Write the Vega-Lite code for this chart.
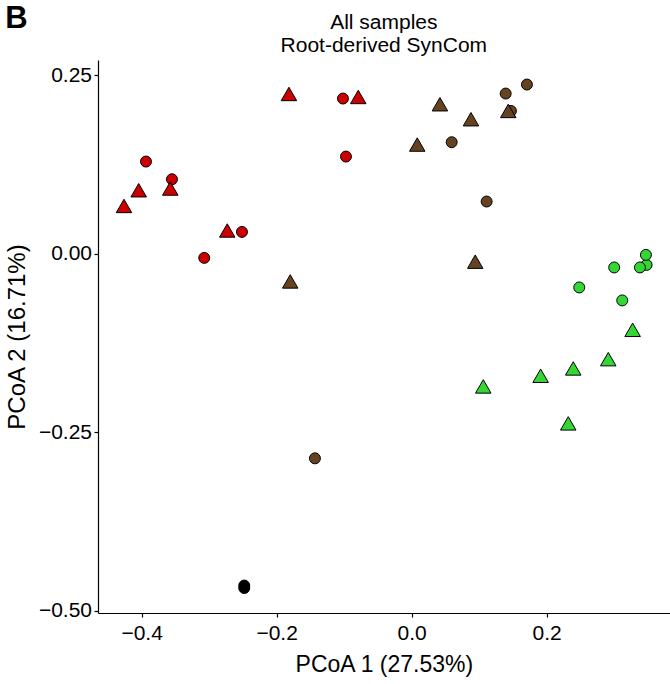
{
  "$schema": "https://vega.github.io/schema/vega-lite/v6.json",
  "padding": {"left": 5, "top": 3, "right": 0, "bottom": 0},
  "background": "white",
  "config": {"font": "Liberation Sans", "view": {"stroke": null}},
  "title": {"text": "B", "anchor": "start", "frame": "bounds", "fontSize": 31, "fontWeight": "bold", "color": "black", "offset": -23},
  "vconcat": [
    {
      "width": 571.7,
      "height": 553,
      "title": {"text": ["All samples", "Root-derived SynCom"], "fontSize": 21, "fontWeight": "normal", "lineHeight": 23, "color": "black", "offset": 4},
      "data": {
        "values": [
          {"pcoa1": -0.3936, "pcoa2": 0.1291, "group": "red", "shape": "circle"},
          {"pcoa1": -0.3551, "pcoa2": 0.1043, "group": "red", "shape": "circle"},
          {"pcoa1": -0.2514, "pcoa2": 0.0305, "group": "red", "shape": "circle"},
          {"pcoa1": -0.3073, "pcoa2": -0.0059, "group": "red", "shape": "circle"},
          {"pcoa1": -0.1018, "pcoa2": 0.2174, "group": "red", "shape": "circle"},
          {"pcoa1": -0.0973, "pcoa2": 0.1361, "group": "red", "shape": "circle"},
          {"pcoa1": 0.1393, "pcoa2": 0.2244, "group": "brown", "shape": "circle"},
          {"pcoa1": 0.1708, "pcoa2": 0.2370, "group": "brown", "shape": "circle"},
          {"pcoa1": 0.1471, "pcoa2": 0.2000, "group": "brown", "shape": "circle"},
          {"pcoa1": 0.0593, "pcoa2": 0.1562, "group": "brown", "shape": "circle"},
          {"pcoa1": 0.1111, "pcoa2": 0.0731, "group": "brown", "shape": "circle"},
          {"pcoa1": -0.1433, "pcoa2": -0.2868, "group": "brown", "shape": "circle"},
          {"pcoa1": 0.3481, "pcoa2": -0.0157, "group": "green", "shape": "circle"},
          {"pcoa1": 0.3471, "pcoa2": -0.0017, "group": "green", "shape": "circle"},
          {"pcoa1": 0.3382, "pcoa2": -0.0193, "group": "green", "shape": "circle"},
          {"pcoa1": 0.3001, "pcoa2": -0.0193, "group": "green", "shape": "circle"},
          {"pcoa1": 0.2483, "pcoa2": -0.0473, "group": "green", "shape": "circle"},
          {"pcoa1": 0.3120, "pcoa2": -0.0655, "group": "green", "shape": "circle"},
          {"pcoa1": -0.2480, "pcoa2": -0.4650, "group": "black", "shape": "circle"},
          {"pcoa1": -0.2480, "pcoa2": -0.4685, "group": "black", "shape": "circle"},
          {"pcoa1": -0.1818, "pcoa2": 0.2238, "group": "red", "shape": "triangle"},
          {"pcoa1": -0.4044, "pcoa2": 0.0889, "group": "red", "shape": "triangle"},
          {"pcoa1": -0.3576, "pcoa2": 0.0913, "group": "red", "shape": "triangle"},
          {"pcoa1": -0.4262, "pcoa2": 0.0669, "group": "red", "shape": "triangle"},
          {"pcoa1": -0.2732, "pcoa2": 0.0325, "group": "red", "shape": "triangle"},
          {"pcoa1": -0.0791, "pcoa2": 0.2196, "group": "red", "shape": "triangle"},
          {"pcoa1": 0.0419, "pcoa2": 0.2094, "group": "brown", "shape": "triangle"},
          {"pcoa1": 0.0879, "pcoa2": 0.1884, "group": "brown", "shape": "triangle"},
          {"pcoa1": 0.1431, "pcoa2": 0.2000, "group": "brown", "shape": "triangle"},
          {"pcoa1": 0.0083, "pcoa2": 0.1529, "group": "brown", "shape": "triangle"},
          {"pcoa1": 0.0942, "pcoa2": -0.0112, "group": "brown", "shape": "triangle"},
          {"pcoa1": -0.1799, "pcoa2": -0.0389, "group": "brown", "shape": "triangle"},
          {"pcoa1": 0.3274, "pcoa2": -0.1067, "group": "green", "shape": "triangle"},
          {"pcoa1": 0.2913, "pcoa2": -0.1478, "group": "green", "shape": "triangle"},
          {"pcoa1": 0.2394, "pcoa2": -0.1608, "group": "green", "shape": "triangle"},
          {"pcoa1": 0.1911, "pcoa2": -0.1711, "group": "green", "shape": "triangle"},
          {"pcoa1": 0.1061, "pcoa2": -0.1860, "group": "green", "shape": "triangle"},
          {"pcoa1": 0.2320, "pcoa2": -0.2378, "group": "green", "shape": "triangle"}
        ]
      },
      "mark": {"type": "point", "filled": true, "stroke": "black", "strokeWidth": 1, "opacity": 1, "strokeOpacity": 1, "fillOpacity": 1},
      "encoding": {
        "x": {
          "field": "pcoa1", "type": "quantitative",
          "scale": {"domain": [-0.4647, 0.3823], "nice": false, "zero": false},
          "axis": {"values": [-0.4, -0.2, 0, 0.2], "format": ".1f", "title": "PCoA 1 (27.53%)", "grid": false,
            "domainColor": "black", "domainWidth": 1.2, "tickColor": "black", "tickSize": 4, "tickWidth": 1.2,
            "labelFontSize": 21, "labelColor": "black", "labelPadding": 6,
            "titleFontSize": 23, "titleFontWeight": "normal", "titleColor": "black", "titlePadding": 10}
        },
        "y": {
          "field": "pcoa2", "type": "quantitative",
          "scale": {"domain": [-0.5035, 0.2714], "nice": false, "zero": false},
          "axis": {"values": [-0.5, -0.25, 0, 0.25], "format": ".2f", "title": "PCoA 2 (16.71%)", "grid": false,
            "domainColor": "black", "domainWidth": 1.2, "tickColor": "black", "tickSize": 4, "tickWidth": 1.2,
            "labelFontSize": 21, "labelColor": "black", "labelPadding": 2.5,
            "titleFontSize": 24, "titleFontWeight": "normal", "titleColor": "black", "titlePadding": 9}
        },
        "fill": {
          "field": "group", "type": "nominal",
          "scale": {"domain": ["red", "brown", "green", "black"], "range": ["#CC0000", "#654321", "#33D633", "#000000"]},
          "legend": null
        },
        "shape": {
          "field": "shape", "type": "nominal",
          "scale": {"domain": ["circle", "triangle"], "range": ["circle", "triangle-up"]},
          "legend": null
        },
        "size": {
          "field": "shape", "type": "ordinal",
          "scale": {"domain": ["circle", "triangle"], "range": [120, 240]},
          "legend": null
        }
      }
    }
  ]
}
